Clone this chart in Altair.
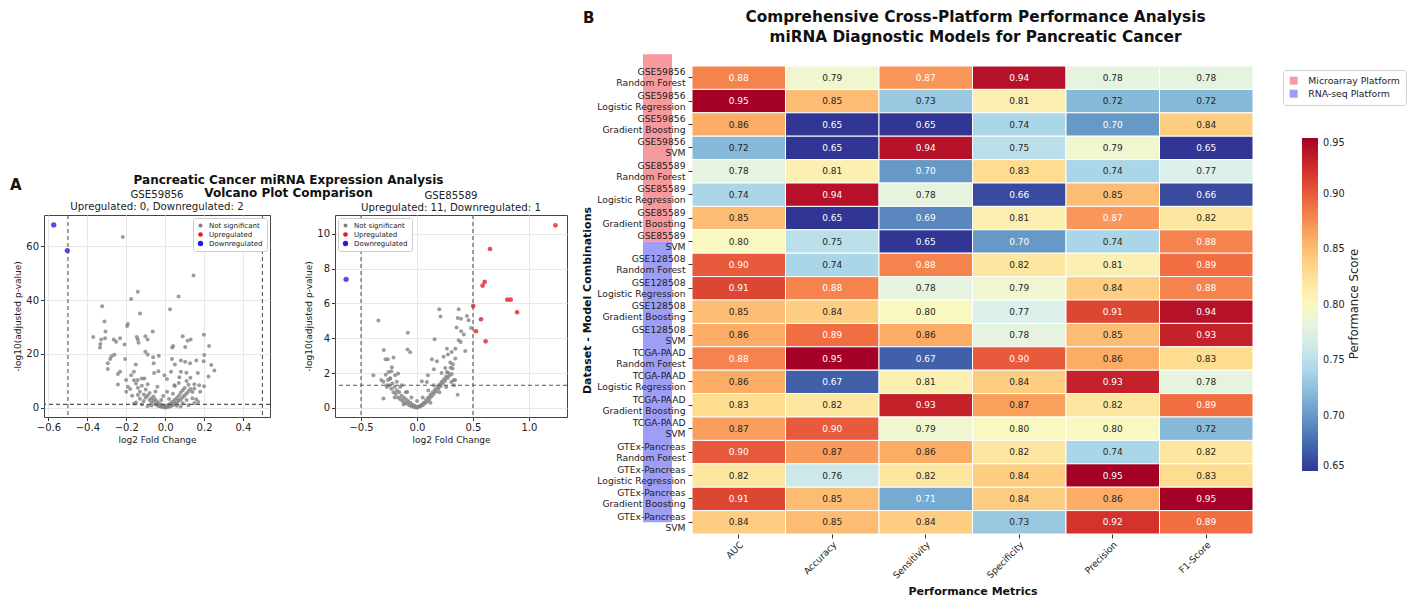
import altair as alt
import pandas as pd

FONT = "DejaVu Sans"

# ---------------- Panel A : volcano plots ----------------
STATUS = ["Not significant", "Upregulated", "Downregulated"]
STATUS_COLORS = ["#808080", "#e8191f", "#1d1de0"]
LFC_THRESH = [-0.5, 0.5]
SIG_LINE = [1.301]

gse59856_ns = [
    [-0.218, 63.4], [0.146, 49.1], [-0.141, 43.1], [0.069, 41.3], [-0.175, 40.4], [-0.324, 37.7],
    [-0.129, 35.0], [0.025, 36.6], [-0.312, 32.1], [-0.192, 31.1], [-0.196, 30.4], [-0.307, 28.3],
    [-0.064, 28.3], [-0.370, 26.3], [-0.102, 26.6], [-0.146, 26.3], [0.090, 26.6], [0.199, 27.1],
    [-0.329, 25.4], [-0.309, 25.8], [-0.264, 25.4], [-0.232, 25.8], [-0.141, 25.4], [-0.090, 25.4],
    [0.131, 25.4], [0.115, 24.9], [-0.252, 24.5], [-0.137, 24.2], [-0.333, 23.7], [-0.209, 23.5],
    [-0.335, 22.4], [0.041, 23.0], [0.036, 22.4], [0.226, 23.0], [0.103, 22.6], [-0.102, 20.8],
    [-0.276, 19.2], [-0.261, 19.7], [-0.090, 19.8], [-0.033, 19.3], [0.201, 19.6], [-0.206, 18.1],
    [-0.283, 18.1], [-0.062, 18.8], [0.035, 18.1], [0.081, 17.6], [0.103, 17.1], [0.160, 17.6],
    [0.198, 17.3], [-0.059, 16.6], [-0.295, 16.6], [0.128, 16.6], [0.237, 15.9], [-0.151, 16.1],
    [0.050, 16.1], [0.253, 13.9], [-0.295, 14.4], [-0.232, 13.4], [-0.243, 12.6], [-0.161, 13.4],
    [-0.035, 13.6], [-0.057, 12.9], [0.030, 13.4], [0.081, 13.4], [0.109, 13.0], [0.168, 12.9],
    [0.223, 11.6], [-0.004, 12.1], [-0.175, 12.1], [-0.107, 10.9], [-0.201, 10.3], [-0.141, 10.3],
    [0.009, 10.7], [0.073, 11.4], [-0.243, 8.7], [-0.192, 7.8], [0.175, 8.4], [0.150, 7.2], [0.047, 8.4],
    [-0.15, 9.0], [-0.14, 7.5], [-0.13, 6.0], [-0.12, 8.2], [-0.11, 5.0], [-0.10, 6.8], [-0.10, 3.8],
    [-0.09, 4.6], [-0.08, 2.9], [-0.08, 5.5], [-0.07, 3.6], [-0.07, 1.9], [-0.06, 2.6], [-0.06, 4.2],
    [-0.05, 1.4], [-0.05, 3.1], [-0.04, 0.9], [-0.04, 2.2], [-0.03, 0.6], [-0.03, 1.6], [-0.02, 0.4],
    [-0.02, 1.1], [-0.01, 0.2], [-0.01, 0.8], [0.0, 0.1], [0.0, 0.5], [0.01, 0.2], [0.01, 0.9],
    [0.02, 0.4], [0.02, 1.2], [0.03, 0.7], [0.03, 1.8], [0.04, 1.0], [0.04, 2.4], [0.05, 1.5],
    [0.05, 3.0], [0.06, 2.0], [0.06, 3.7], [0.07, 2.6], [0.07, 4.5], [0.08, 3.1], [0.08, 5.6],
    [0.09, 3.9], [0.09, 6.5], [0.10, 4.6], [0.10, 7.4], [0.11, 5.3], [0.12, 6.2], [0.12, 8.6],
    [0.13, 7.0], [0.14, 5.9], [0.15, 8.8], [-0.16, 10.2], [-0.12, 10.9], [-0.09, 8.8], [0.07, 9.2],
    [0.11, 10.0], [0.13, 11.2], [-0.02, 2.9], [0.02, 3.3], [-0.05, 6.1], [0.04, 5.2], [-0.11, 2.5],
    [0.09, 1.7], [-0.07, 0.9], [0.06, 0.8], [-0.13, 3.4], [0.11, 2.9], [-0.01, 4.4], [0.01, 6.0],
    [-0.04, 7.8], [0.05, 8.1], [0.16, 3.2], [-0.17, 4.5], [0.18, 6.0], [-0.18, 7.0], [0.15, 1.8],
    [-0.15, 2.0], [0.20, 8.0], [-0.20, 6.0], [-0.12, 1.2], [0.12, 1.0], [-0.09, 0.6], [0.08, 0.5],
    [0.14, 3.6], [-0.14, 4.8], [0.17, 2.2], [-0.16, 1.5],
]
gse59856_up = []
gse59856_down = [[-0.573, 67.9], [-0.503, 58.4]]

gse85589_ns = [
    [-0.345, 5.01], [0.199, 5.66], [0.372, 5.66], [0.210, 5.24], [0.363, 5.16], [0.446, 5.28],
    [0.461, 5.03], [0.482, 4.59], [0.393, 5.12], [-0.082, 4.32], [0.157, 3.94], [0.354, 4.61],
    [0.394, 4.40], [0.418, 4.21], [0.372, 3.88], [0.390, 3.79], [0.267, 3.40], [0.342, 3.40],
    [0.431, 3.27], [-0.085, 3.35], [-0.061, 3.19], [-0.297, 3.33], [-0.282, 2.79], [-0.261, 2.79],
    [-0.210, 2.89], [-0.225, 2.33], [-0.390, 1.87], [-0.300, 0.54], [0.363, 0.76], [0.133, 2.79],
    [0.178, 2.68], [0.276, 3.06], [0.309, 3.21], [0.237, 2.93], [0.342, 2.83], [0.297, 2.60],
    [0.318, 2.26], [0.252, 2.29], [0.267, 2.06], [0.151, 2.22], [0.097, 1.87], [0.043, 1.53],
    [0.088, 1.49], [0.327, 1.59], [0.306, 1.49], [-0.169, 1.97], [-0.196, 1.87], [-0.240, 1.68],
    [-0.255, 2.06], [-0.270, 1.30], [-0.136, 1.30], [-0.088, 0.92],
    [-0.28, 1.9], [-0.26, 1.6], [-0.25, 1.3], [-0.24, 1.7], [-0.23, 1.1], [-0.22, 1.4], [-0.21, 0.9],
    [-0.20, 1.2], [-0.19, 0.8], [-0.18, 1.0], [-0.17, 0.6], [-0.16, 0.9], [-0.15, 0.5], [-0.14, 0.7],
    [-0.13, 0.4], [-0.12, 0.6], [-0.11, 0.3], [-0.10, 0.5], [-0.09, 0.25], [-0.08, 0.4], [-0.07, 0.15],
    [-0.06, 0.3], [-0.05, 0.1], [-0.04, 0.2], [-0.03, 0.05], [-0.02, 0.12], [-0.01, 0.03], [0.0, 0.02],
    [0.01, 0.05], [0.02, 0.1], [0.03, 0.08], [0.04, 0.18], [0.05, 0.15], [0.06, 0.3], [0.07, 0.25],
    [0.08, 0.45], [0.09, 0.35], [0.10, 0.6], [0.11, 0.5], [0.12, 0.75], [0.13, 0.65], [0.14, 0.9],
    [0.15, 0.8], [0.16, 1.05], [0.17, 0.95], [0.18, 1.2], [0.19, 1.1], [0.20, 1.35], [0.21, 1.25],
    [0.22, 1.5], [0.23, 1.4], [0.24, 1.65], [0.25, 1.55], [0.26, 1.8], [0.27, 1.7], [0.28, 2.0],
    [0.29, 1.85], [0.30, 2.3], [0.31, 1.95], [0.32, 2.5], [-0.27, 1.2], [-0.20, 0.6], [-0.12, 0.2],
    [0.12, 0.3], [0.20, 0.9], [0.26, 1.2], [-0.30, 1.5], [-0.18, 1.5], [-0.10, 0.9], [0.0, 0.4],
    [0.05, 0.6], [0.10, 1.0], [0.15, 1.3], [0.22, 2.0], [-0.05, 0.6], [-0.15, 1.2], [0.33, 1.3],
    [0.34, 1.6], [-0.32, 1.6], [-0.23, 2.1],
]
gse85589_up = [
    [1.237, 10.48], [0.652, 9.12], [0.604, 7.23], [0.586, 7.02], [0.807, 6.21], [0.837, 6.21],
    [0.502, 5.85], [0.894, 5.49], [0.572, 5.09], [0.527, 4.40], [0.613, 3.82],
]
gse85589_down = [[-0.634, 7.38]]

panel_a_label = ["A"]
suptitle = ["Pancreatic Cancer miRNA Expression Analysis", "Volcano Plot Comparison"]


def volcano(name, ns, up, down, xdom, ydom, xticks, yticks, legend_orient, width, height,
            title_offset, extra=None):
    recs = ([{"lfc": p[0], "nlp": p[1], "status": STATUS[0]} for p in ns]
            + [{"lfc": p[0], "nlp": p[1], "status": STATUS[1]} for p in up]
            + [{"lfc": p[0], "nlp": p[1], "status": STATUS[2]} for p in down])
    df = pd.DataFrame(recs)
    xs = alt.Scale(domain=xdom, nice=False, zero=False)
    ys = alt.Scale(domain=ydom, nice=False, zero=False)
    ax_common = dict(labelFontSize=10, titleFontSize=9, titleFontWeight="normal", tickSize=3.5,
                     tickColor="#333333", labelColor="#222222", titleColor="#222222",
                     gridColor="#e8e8e8", domain=False, labelPadding=2)
    pts = alt.Chart(df).mark_circle(opacity=0.78).encode(
        x=alt.X("lfc:Q", scale=xs,
                axis=alt.Axis(title="log2 Fold Change", values=xticks, format=".1f",
                              titlePadding=3, **ax_common)),
        y=alt.Y("nlp:Q", scale=ys,
                axis=alt.Axis(title="-log10(adjusted p-value)", values=yticks, format="d",
                              titlePadding=3, **ax_common)),
        color=alt.Color("status:N", scale=alt.Scale(domain=STATUS, range=STATUS_COLORS),
                        legend=alt.Legend(title=None, orient=legend_orient, offset=3,
                                          fillColor="white", strokeColor="#cccccc", padding=4,
                                          cornerRadius=2, labelFontSize=7, symbolSize=16,
                                          symbolType="circle", rowPadding=1, labelColor="#222222",
                                          symbolStrokeWidth=0, symbolOpacity=1, labelOffset=5)),
        size=alt.Size("status:N", scale=alt.Scale(domain=STATUS, range=[16, 28, 28]), legend=None),
    )
    vl = alt.Chart(pd.DataFrame({"lfc": LFC_THRESH})).mark_rule(
        color="#555555", strokeDash=[4, 3], strokeWidth=1.1).encode(x="lfc:Q")
    hl = alt.Chart(pd.DataFrame({"nlp": SIG_LINE})).mark_rule(
        color="#555555", strokeDash=[4, 3], strokeWidth=1.1).encode(y="nlp:Q")
    layers = [pts, vl, hl] + ([extra] if extra is not None else [])
    return alt.layer(*layers).properties(
        width=width, height=height,
        title=alt.TitleParams(text=[name, f"Upregulated: {len(up)}, Downregulated: {len(down)}"],
                              fontSize=10.2, fontWeight="normal", anchor="middle", frame="group",
                              offset=title_offset, lineHeight=12, color="#222222"),
        view=alt.ViewBackground(stroke="#444444", strokeWidth=1),
    )


a_txt = alt.Chart(pd.DataFrame({"t": panel_a_label})).mark_text(
    fontSize=15, fontWeight="bold", align="left", baseline="middle", color="#111111").encode(
    text="t:N", x=alt.value(-34), y=alt.value(-30))

p1 = volcano("GSE59856", gse59856_ns, gse59856_up, gse59856_down, [-0.623, 0.539], [-3.4, 71.6],
             [-0.6, -0.4, -0.2, 0.0, 0.2, 0.4], [0, 10, 20, 30, 40, 50, 60, 70], "top-right", 226, 202,
             title_offset=-34.5, extra=a_txt)
p2 = volcano("GSE85589", gse85589_ns, gse85589_up, gse85589_down, [-0.733, 1.34], [-0.52, 11.07],
             [-0.5, 0.0, 0.5, 1.0], [0, 2, 4, 6, 8, 10], "top-left", 232, 202, title_offset=1)

row_a = alt.hconcat(
    p1, p2, spacing=32,
    title=alt.TitleParams(text=suptitle, fontSize=12, fontWeight="bold", anchor="middle",
                          frame="group", offset=-22.5, lineHeight=13, color="#111111", dx=244.5),
).resolve_scale(color="independent", size="independent")

spacer = alt.Chart(pd.DataFrame({"s": [0]})).mark_point(size=0, opacity=0).encode(
    x=alt.value(0), y=alt.value(0)).properties(width=1, height=108,
                                               view=alt.ViewBackground(stroke=None))
panel_a = alt.vconcat(spacer, row_a, spacing=0).resolve_scale(color="independent",
                                                              size="independent")

# ---------------- Panel B : heatmap ----------------
datasets = ["GSE59856", "GSE85589", "GSE128508", "TCGA-PAAD", "GTEx-Pancreas"]
models = ["Random Forest", "Logistic Regression", "Gradient Boosting", "SVM"]
metrics = ["AUC", "Accuracy", "Sensitivity", "Specificity", "Precision", "F1-Score"]

auc = [0.88, 0.95, 0.86, 0.72, 0.78, 0.74, 0.85, 0.80, 0.90, 0.91, 0.85, 0.86, 0.88, 0.86, 0.83,
       0.867, 0.90, 0.82, 0.91, 0.84]
accuracy = [0.79, 0.85, 0.65, 0.65, 0.81, 0.94, 0.65, 0.75, 0.74, 0.88, 0.84, 0.89, 0.95, 0.67, 0.82,
            0.90, 0.868, 0.76, 0.85, 0.85]
sensitivity = [0.87, 0.73, 0.65, 0.94, 0.70, 0.78, 0.69, 0.65, 0.88, 0.78, 0.80, 0.86, 0.67, 0.81,
               0.93, 0.79, 0.86, 0.82, 0.71, 0.84]
specificity = [0.94, 0.81, 0.74, 0.75, 0.83, 0.66, 0.81, 0.70, 0.82, 0.79, 0.77, 0.78, 0.90, 0.84,
               0.866, 0.80, 0.82, 0.84, 0.84, 0.73]
precision = [0.78, 0.72, 0.70, 0.79, 0.74, 0.85, 0.87, 0.74, 0.81, 0.84, 0.91, 0.85, 0.86, 0.93, 0.82,
             0.80, 0.74, 0.95, 0.86, 0.92]
f1_score = [0.78, 0.72, 0.84, 0.65, 0.77, 0.66, 0.82, 0.88, 0.89, 0.88, 0.94, 0.93, 0.83, 0.78, 0.89,
            0.72, 0.82, 0.83, 0.95, 0.89]
metric_values = [auc, accuracy, sensitivity, specificity, precision, f1_score]

platforms = ["Microarray Platform", "RNA-seq Platform"]
platform_start = [-0.5, 7.5]
platform_end = [7.5, 19.5]
platform_colors = ["#f79a9e", "#9e9ef6"]
cbar_ticks = [0.65, 0.70, 0.75, 0.80, 0.85, 0.90, 0.95]
cbar_title = ["Performance Score"]

row_labels = [f"{d}|{m}" for d in datasets for m in models]
heat_df = pd.DataFrame([
    {"row": r, "metric": metrics[j], "value": metric_values[j][i]}
    for j in range(len(metrics)) for i, r in enumerate(row_labels)
])

x_enc = alt.X("metric:N", sort=metrics,
              axis=alt.Axis(title="Performance Metrics", labelAngle=315, labelAlign="right",
                            labelBaseline="top", labelFontSize=9.2, tickSize=4, tickColor="#333333",
                            domain=False, titleFontSize=11, titleFontWeight="bold", titlePadding=5,
                            labelPadding=2, labelColor="#222222", titleColor="#111111"))
y_enc = alt.Y("row:N", sort=row_labels,
              axis=alt.Axis(title="Dataset - Model Combinations", labelExpr="split(datum.label, '|')",
                            labelAlign="right", labelBaseline="middle", labelFontSize=9.2,
                            labelLineHeight=11, labelOffset=-5.5, labelColor="#222222", tickSize=4,
                            tickColor="#333333", domain=False, labelPadding=3, titleFontSize=11,
                            titleFontWeight="bold", titlePadding=4, zindex=1, labelLimit=300,
                            titleColor="#111111"))

rect = alt.Chart(heat_df).mark_rect(stroke="white", strokeWidth=1).encode(
    x=x_enc, y=y_enc,
    color=alt.Color("value:Q",
                    scale=alt.Scale(scheme="redyellowblue", reverse=True, domain=[0.65, 0.95]),
                    legend=alt.Legend(orient="none", legendX=610, legendY=72, direction="vertical",
                                      gradientLength=333, gradientThickness=16, title=None,
                                      values=cbar_ticks, format=".2f", labelFontSize=9.7,
                                      labelOffset=5, gradientStrokeWidth=0, labelColor="#222222")),
)
text = alt.Chart(heat_df).mark_text(fontSize=9).encode(
    x=alt.X("metric:N", sort=metrics),
    y=alt.Y("row:N", sort=row_labels),
    text=alt.Text("value:Q", format=".2f"),
    color=alt.condition((alt.datum.value >= 0.869) | (alt.datum.value <= 0.715),
                        alt.value("#ffffff"), alt.value("#262626")),
)
heat = alt.layer(rect, text)

strip_df = pd.DataFrame({"platform": platforms, "start": platform_start, "end": platform_end})
strip = alt.Chart(strip_df).mark_rect().encode(
    x=alt.value(-49), x2=alt.value(-20),
    y=alt.Y("start:Q", scale=alt.Scale(domain=[0, 20], reverse=True, nice=False, zero=False), axis=None),
    y2="end:Q",
    color=alt.Color("platform:N", scale=alt.Scale(domain=platforms, range=platform_colors),
                    legend=alt.Legend(orient="none", legendX=591, legendY=4, title=None,
                                      symbolType="square", symbolSize=64, labelFontSize=9.3,
                                      strokeColor="#d0d0d0", fillColor="white", padding=6,
                                      cornerRadius=3, rowPadding=3, labelOffset=10,
                                      symbolStrokeWidth=0, labelColor="#222222")),
)

panel_b_label = ["B"]
b_txt = alt.Chart(pd.DataFrame({"t": panel_b_label})).mark_text(
    fontSize=15, fontWeight="bold", align="left", baseline="middle", color="#111111").encode(
    text="t:N", x=alt.value(-109), y=alt.value(-48))
cbar_txt = alt.Chart(pd.DataFrame({"t": cbar_title})).mark_text(
    fontSize=11.7, angle=270, align="center", baseline="middle", color="#222222").encode(
    text="t:N", x=alt.value(662), y=alt.value(238))

panel_b = alt.layer(strip, heat, b_txt, cbar_txt).resolve_scale(
    y="independent", color="independent").properties(
    width=561, height=468,
    title=alt.TitleParams(text=["Comprehensive Cross-Platform Performance Analysis",
                                "miRNA Diagnostic Models for Pancreatic Cancer"],
                          fontSize=15.3, fontWeight="bold", anchor="middle", frame="group",
                          offset=-34.5, lineHeight=20, color="#111111", dx=3),
    view=alt.ViewBackground(stroke=None),
)

chart = alt.hconcat(panel_a, panel_b, spacing=12).resolve_scale(
    color="independent", size="independent").properties(
    padding={"left": 1, "top": 2, "right": 0, "bottom": 0}
).configure(font=FONT).configure_view(stroke=None)

chart.save("out.html", embed_options={"renderer": "svg", "actions": False})
